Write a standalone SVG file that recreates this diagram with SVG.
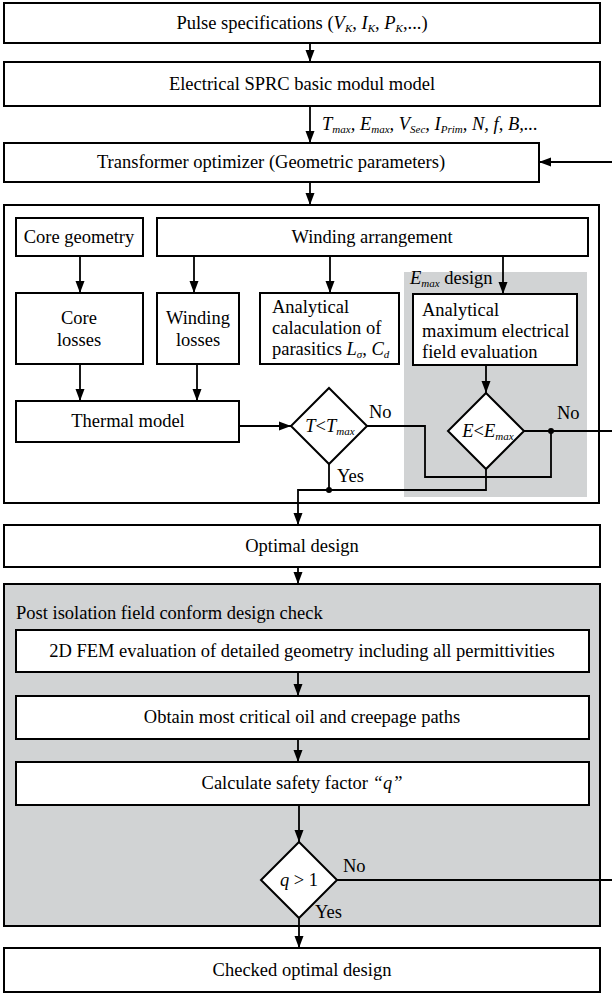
<svg xmlns="http://www.w3.org/2000/svg" width="612" height="994" viewBox="0 0 612 994">
<defs>
<style>
.b{fill:#fff;stroke:#000;stroke-width:2}
.g{fill:#d1d3d4;stroke:none}
.gc{fill:#d1d3d4;stroke:#000;stroke-width:2}
.c{fill:#fff;stroke:#000;stroke-width:2}
.l{fill:none;stroke:#000;stroke-width:1.8}
text{font-family:"Liberation Serif","Times New Roman",serif;font-size:18.5px;fill:#000}
.m{text-anchor:middle}
.i{font-style:italic}
.s{font-size:11px;font-style:italic}
</style>
<marker id="a" markerUnits="userSpaceOnUse" markerWidth="13" markerHeight="10" refX="12" refY="5" orient="auto"><path d="M0,0.5 L12,5 L0,9.5 z" fill="#000"/></marker>
</defs>

<g id="n-pulse"><rect class="b" x="4" y="3" width="596" height="40"/>
<text class="m" x="302" y="29">Pulse specifications (<tspan class="i">V</tspan><tspan class="s" dy="3">K</tspan><tspan dy="-3">, </tspan><tspan class="i">I</tspan><tspan class="s" dy="3">K</tspan><tspan dy="-3">, </tspan><tspan class="i">P</tspan><tspan class="s" dy="3">K</tspan><tspan dy="-3">,...)</tspan></text></g>

<g id="n-sprc"><rect class="b" x="4" y="62" width="596" height="44"/>
<text class="m" x="302" y="90">Electrical SPRC basic modul model</text></g>

<g id="n-param"><text class="i" x="322" y="130">T<tspan class="s" dy="3">max</tspan><tspan dy="-3">, E</tspan><tspan class="s" dy="3">max</tspan><tspan dy="-3">, V</tspan><tspan class="s" dy="3">Sec</tspan><tspan dy="-3">, I</tspan><tspan class="s" dy="3">Prim</tspan><tspan dy="-3">, N, f, B,...</tspan></text></g>

<g id="n-optimizer"><rect class="b" x="4" y="143" width="535" height="39"/>
<text class="m" x="271" y="168">Transformer optimizer (Geometric parameters)</text></g>

<g id="n-loop"><rect class="b" x="4" y="205" width="595" height="298"/>
<rect class="g" x="404" y="272" width="183" height="225"/>
<text x="410" y="284"><tspan class="i">E</tspan><tspan class="s" dy="3">max</tspan><tspan dy="-3"> design</tspan></text></g>

<g id="n-coregeo"><rect class="b" x="16" y="218" width="127" height="38"/>
<text class="m" x="79" y="243">Core geometry</text></g>

<g id="n-winding"><rect class="b" x="157" y="218" width="431" height="38"/>
<text class="m" x="372" y="243">Winding arrangement</text></g>

<g id="n-coreloss"><rect class="b" x="16" y="293" width="127" height="71"/>
<text class="m" x="79" y="324">Core</text><text class="m" x="79" y="346">losses</text></g>

<g id="n-windloss"><rect class="b" x="157" y="293" width="82" height="71"/>
<text class="m" x="198" y="324">Winding</text><text class="m" x="198" y="346">losses</text></g>

<g id="n-parasitic"><rect class="b" x="260" y="293" width="139" height="71"/>
<text x="272" y="313">Analytical</text><text x="272" y="334">calaculation of</text>
<text x="272" y="355">parasitics <tspan class="i">L</tspan><tspan class="s" dy="3">σ</tspan><tspan dy="-3">, </tspan><tspan class="i">C</tspan><tspan class="s" dy="3">d</tspan></text></g>

<g id="n-efield"><rect class="b" x="413" y="294" width="164" height="71"/>
<text x="422" y="316">Analytical</text><text x="422" y="337">maximum electrical</text><text x="422" y="358">field evaluation</text></g>

<g id="n-thermal"><rect class="b" x="16" y="401" width="223" height="41"/>
<text class="m" x="128" y="427">Thermal model</text></g>

<g id="n-tcheck"><polygon class="c" points="329,388 367,426 329,464 291,426"/>
<text class="m" x="330" y="432"><tspan class="i">T</tspan>&lt;<tspan class="i">T</tspan><tspan class="s" dy="3">max</tspan></text></g>

<g id="n-echeck"><polygon class="c" points="486,393 524,431 486,469 448,431"/>
<text class="m" x="488" y="437"><tspan class="i">E</tspan>&lt;<tspan class="i">E</tspan><tspan class="s" dy="3">max</tspan></text></g>

<g id="n-optimal"><rect class="b" x="4" y="525" width="596" height="42"/>
<text class="m" x="302" y="552">Optimal design</text></g>

<g id="n-post"><rect class="gc" x="4" y="584" width="596" height="342"/>
<text x="16" y="619">Post isolation field conform design check</text></g>

<g id="n-fem"><rect class="b" x="16" y="630" width="573" height="42"/>
<text class="m" x="302" y="657">2D FEM evaluation of detailed geometry including all permittivities</text></g>

<g id="n-obtain"><rect class="b" x="16" y="696" width="573" height="43"/>
<text class="m" x="302" y="723">Obtain most critical oil and creepage paths</text></g>

<g id="n-calc"><rect class="b" x="16" y="762" width="573" height="43"/>
<text class="m" x="302" y="789">Calculate safety factor <tspan class="i">“q”</tspan></text></g>

<g id="n-qcheck"><polygon class="c" points="299,842 337,880 299,918 261,880"/>
<text class="m" x="299" y="886"><tspan class="i">q</tspan> &gt; 1</text></g>

<g id="n-checked"><rect class="b" x="4" y="948" width="596" height="44"/>
<text class="m" x="302" y="976">Checked optimal design</text></g>

<g id="labels">
<text x="369" y="418">No</text>
<text x="557" y="419">No</text>
<text x="337" y="482">Yes</text>
<text x="343" y="872">No</text>
<text x="315" y="918">Yes</text>
</g>

<g id="connectors">
<line class="l" x1="310" y1="43" x2="310" y2="62" marker-end="url(#a)"/>
<line class="l" x1="310" y1="106" x2="310" y2="143" marker-end="url(#a)"/>
<line class="l" x1="612" y1="162" x2="539" y2="162" marker-end="url(#a)"/>
<line class="l" x1="310" y1="182" x2="310" y2="205" marker-end="url(#a)"/>
<line class="l" x1="80" y1="256" x2="80" y2="293" marker-end="url(#a)"/>
<line class="l" x1="194" y1="256" x2="194" y2="293" marker-end="url(#a)"/>
<line class="l" x1="330" y1="256" x2="330" y2="293" marker-end="url(#a)"/>
<line class="l" x1="503" y1="256" x2="503" y2="294" marker-end="url(#a)"/>
<line class="l" x1="80" y1="364" x2="80" y2="401" marker-end="url(#a)"/>
<line class="l" x1="197" y1="364" x2="197" y2="401" marker-end="url(#a)"/>
<line class="l" x1="486" y1="365" x2="486" y2="393" marker-end="url(#a)"/>
<line class="l" x1="239" y1="426" x2="291" y2="426" marker-end="url(#a)"/>
<polyline class="l" points="367,426 425,426 425,477 551,477 551,431"/>
<line class="l" x1="524" y1="431" x2="612" y2="431"/>
<circle cx="551" cy="431" r="3" fill="#000"/>
<line class="l" x1="329" y1="464" x2="329" y2="490"/>
<polyline class="l" points="486,469 486,490 298,490 298,525" marker-end="url(#a)"/>
<circle cx="329" cy="490" r="3" fill="#000"/>
<line class="l" x1="298" y1="567" x2="298" y2="584" marker-end="url(#a)"/>
<line class="l" x1="298" y1="672" x2="298" y2="696" marker-end="url(#a)"/>
<line class="l" x1="298" y1="739" x2="298" y2="762" marker-end="url(#a)"/>
<line class="l" x1="299" y1="805" x2="299" y2="842" marker-end="url(#a)"/>
<line class="l" x1="337" y1="880" x2="612" y2="880"/>
<line class="l" x1="299" y1="918" x2="299" y2="948" marker-end="url(#a)"/>
</g>
</svg>
